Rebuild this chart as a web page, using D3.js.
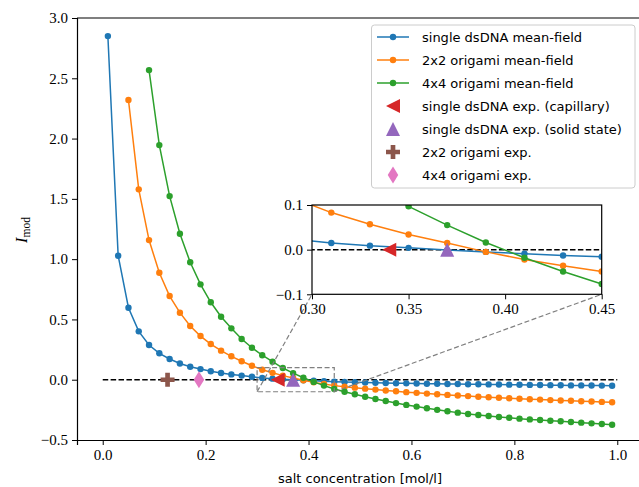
<!DOCTYPE html>
<html>
<head>
<meta charset="utf-8">
<script src="https://cdn.jsdelivr.net/npm/d3@7"></script>
<style>
  body { margin: 0; background: #fff; }
  svg { display: block; }
  .tick text { font-family: "Liberation Serif", serif; font-size: 15px; fill: #000; }
</style>
</head>
<body>
<svg id="chart" width="639" height="487"></svg>
<script>
// salt concentrations (mol/l)
const saltSingle = d3.range(50).map(i => +(0.01 + 0.02 * i).toFixed(2));
const saltOri2 = saltSingle.slice(2);
const saltOri4 = saltSingle.slice(4);

const singleMF = [2.85, 1.028, 0.597, 0.401, 0.288, 0.219, 0.172, 0.135, 0.108, 0.088,
  0.070, 0.056, 0.044, 0.034, 0.024, 0.015, 0.009, 0.004, -0.001, -0.005,
  -0.009, -0.013, -0.016, -0.019, -0.021, -0.023, -0.025, -0.027, -0.029, -0.030,
  -0.032, -0.033, -0.034, -0.035, -0.036, -0.037, -0.038, -0.039, -0.040, -0.041,
  -0.042, -0.043, -0.044, -0.045, -0.046, -0.047, -0.047, -0.048, -0.049, -0.050];

const ori2MF = [2.32, 1.579, 1.158, 0.887, 0.694, 0.556, 0.445, 0.362, 0.296, 0.241,
  0.194, 0.153, 0.116, 0.083, 0.057, 0.034, 0.015, -0.005, -0.022, -0.036,
  -0.049, -0.058, -0.066, -0.074, -0.082, -0.089, -0.096, -0.103, -0.109, -0.115,
  -0.120, -0.126, -0.131, -0.136, -0.141, -0.145, -0.150, -0.154, -0.158, -0.162,
  -0.165, -0.169, -0.172, -0.175, -0.178, -0.181, -0.184, -0.187];

const ori4MF = [2.568, 1.946, 1.523, 1.211, 0.974, 0.791, 0.642, 0.522, 0.426, 0.338,
  0.265, 0.203, 0.150, 0.097, 0.055, 0.016, -0.018, -0.049, -0.077, -0.100,
  -0.121, -0.141, -0.160, -0.177, -0.194, -0.209, -0.223, -0.237, -0.250, -0.262,
  -0.273, -0.284, -0.293, -0.301, -0.309, -0.316, -0.323, -0.329, -0.334, -0.340,
  -0.345, -0.351, -0.356, -0.362, -0.367, -0.373];

// experimental points [salt, I_mod]
const expPoints = [
  {name: "single dsDNA exp. (capillary)", x: 0.34, y: 0, color: "#d62728", shape: "tri-left"},
  {name: "single dsDNA exp. (solid state)", x: 0.37, y: 0, color: "#9467bd", shape: "tri-up"},
  {name: "2x2 origami exp.", x: 0.126, y: 0, color: "#8c564b", shape: "plus"},
  {name: "4x4 origami exp.", x: 0.187, y: 0, color: "#e377c2", shape: "diamond"}
];

const series = [
  {name: "single dsDNA mean-field", xs: saltSingle, ys: singleMF, color: "#1f77b4"},
  {name: "2x2 origami mean-field", xs: saltOri2, ys: ori2MF, color: "#ff7f0e"},
  {name: "4x4 origami mean-field", xs: saltOri4, ys: ori4MF, color: "#2ca02c"}
];

const mainXTicks = [0, 0.2, 0.4, 0.6, 0.8, 1.0];
const mainYTicks = [-0.5, 0, 0.5, 1.0, 1.5, 2.0, 2.5, 3.0];
const insetXTicks = [0.30, 0.35, 0.40, 0.45];
const insetYTicks = [-0.1, 0, 0.1];

const svg = d3.select("#chart");
const fmt = f => d => d3.format(f)(d).replace("-", "\u2212");

const x = d3.scaleLinear().domain([-0.05, 1.05]).range([77, 643]);
const y = d3.scaleLinear().domain([-0.5, 3.0]).range([440, 18]);

function shapePath(shape, s) {
  const h = s / 2;
  if (shape === "tri-left") return `M${-h},0L${h},${-h}L${h},${h}Z`;
  if (shape === "tri-up") return `M0,${-h}L${h},${h}L${-h},${h}Z`;
  if (shape === "diamond") { const w = h * 0.62; return `M0,${-h}L${w},0L0,${h}L${-w},0Z`; }
  const a = h / 3;
  return `M${-a},${-h}H${a}V${-a}H${h}V${a}H${a}V${h}H${-a}V${a}H${-h}V${-a}H${-a}Z`;
}
const shapeSize = {"tri-left": 14, "tri-up": 14, "plus": 14, "diamond": 17};

function drawData(g, xs, ys) {
  g.append("line")
    .attr("x1", xs(0)).attr("x2", xs(1))
    .attr("y1", ys(0)).attr("y2", ys(0))
    .attr("stroke", "#000").attr("stroke-width", 1.5)
    .attr("stroke-dasharray", "5.5,2.4");
  series.forEach(s => {
    const pts = s.xs.map((v, i) => [v, s.ys[i]]);
    g.append("path")
      .attr("d", d3.line().x(d => xs(d[0])).y(d => ys(d[1]))(pts))
      .attr("fill", "none").attr("stroke", s.color).attr("stroke-width", 1.5);
    g.selectAll(null).data(pts).enter().append("circle")
      .attr("cx", d => xs(d[0])).attr("cy", d => ys(d[1]))
      .attr("r", 3.2).attr("fill", s.color);
  });
  expPoints.forEach(p => {
    g.append("path")
      .attr("d", shapePath(p.shape, shapeSize[p.shape]))
      .attr("transform", `translate(${xs(p.x)},${ys(p.y)})`)
      .attr("fill", p.color);
  });
}

// main axes
const main = svg.append("g");
drawData(main, x, y);

svg.append("g").attr("transform", "translate(0,440)")
  .call(d3.axisBottom(x).tickValues(mainXTicks).tickFormat(fmt(".1f")).tickSize(5).tickPadding(4))
  .call(g => g.select(".domain").attr("stroke-width", 1.2));
svg.append("g").attr("transform", "translate(77,0)")
  .call(d3.axisLeft(y).tickValues(mainYTicks).tickFormat(fmt(".1f")).tickSize(5).tickPadding(4))
  .call(g => g.select(".domain").attr("stroke-width", 1.2));
svg.append("line").attr("x1", 77).attr("x2", 643).attr("y1", 18).attr("y2", 18)
  .attr("stroke", "#000").attr("stroke-width", 1.2);

// inset axes
const xi = d3.scaleLinear().domain([0.30, 0.45]).range([312, 601.7]);
const yi = d3.scaleLinear().domain([-0.1, 0.1]).range([294.3, 205]);

// zoom box and connectors
const boxStyle = sel => sel.attr("fill", "none").attr("stroke", "#808080")
  .attr("stroke-width", 1.2).attr("stroke-dasharray", "5,2.5");
svg.append("rect")
  .attr("x", x(0.30)).attr("y", y(0.1))
  .attr("width", x(0.45) - x(0.30)).attr("height", y(-0.1) - y(0.1))
  .call(boxStyle);
svg.append("line").attr("x1", x(0.30)).attr("y1", y(-0.1))
  .attr("x2", xi(0.30)).attr("y2", yi(-0.1)).call(boxStyle);
svg.append("line").attr("x1", x(0.45)).attr("y1", y(-0.1))
  .attr("x2", xi(0.45)).attr("y2", yi(-0.1)).call(boxStyle);

svg.append("defs").append("clipPath").attr("id", "insetClip")
  .append("rect").attr("x", 312).attr("y", 205).attr("width", 289.7).attr("height", 89.3);
svg.append("rect").attr("x", 312).attr("y", 205).attr("width", 289.7).attr("height", 89.3)
  .attr("fill", "#fff");
const inset = svg.append("g").attr("clip-path", "url(#insetClip)");
drawData(inset, xi, yi);
svg.append("rect").attr("x", 312).attr("y", 205).attr("width", 289.7).attr("height", 89.3)
  .attr("fill", "none").attr("stroke", "#000").attr("stroke-width", 1.2);
svg.append("g").attr("transform", "translate(0,294.3)")
  .call(d3.axisBottom(xi).tickValues(insetXTicks).tickFormat(fmt(".2f")).tickSize(5).tickPadding(4))
  .call(g => g.select(".domain").remove());
svg.append("g").attr("transform", "translate(312,0)")
  .call(d3.axisLeft(yi).tickValues(insetYTicks).tickFormat(fmt(".1f")).tickSize(5).tickPadding(4))
  .call(g => g.select(".domain").remove());

// axis labels
svg.append("text").attr("x", 360).attr("y", 483).attr("text-anchor", "middle")
  .attr("font-family", "DejaVu Sans, sans-serif").attr("font-size", 13)
  .text("salt concentration [mol/l]");
const yl = svg.append("text").attr("transform", "translate(27,230) rotate(-90)")
  .attr("text-anchor", "middle").attr("font-family", "Liberation Serif, serif");
yl.append("tspan").attr("font-style", "italic").attr("font-size", 16).text("I");
yl.append("tspan").attr("font-size", 11.5).attr("dy", 3).text("mod");

// legend
const legend = svg.append("g");
legend.append("rect").attr("x", 371.5).attr("y", 25).attr("width", 263.5).attr("height", 163)
  .attr("rx", 3).attr("fill", "#fff").attr("fill-opacity", 0.8)
  .attr("stroke", "#cccccc").attr("stroke-width", 1);
const rows = series.map(s => ({name: s.name, color: s.color, line: true}))
  .concat(expPoints.map(p => ({name: p.name, color: p.color, shape: p.shape})));
rows.forEach((r, i) => {
  const cy = 37 + i * 23;
  if (r.line) {
    legend.append("line").attr("x1", 377).attr("x2", 409).attr("y1", cy).attr("y2", cy)
      .attr("stroke", r.color).attr("stroke-width", 1.5);
    legend.append("circle").attr("cx", 393).attr("cy", cy).attr("r", 3.2).attr("fill", r.color);
  } else {
    legend.append("path").attr("d", shapePath(r.shape, shapeSize[r.shape]))
      .attr("transform", `translate(393,${cy})`).attr("fill", r.color);
  }
  legend.append("text").attr("x", 422).attr("y", cy + 4.5)
    .attr("font-family", "DejaVu Sans, sans-serif").attr("font-size", 13)
    .text(r.name);
});
</script>
</body>
</html>
